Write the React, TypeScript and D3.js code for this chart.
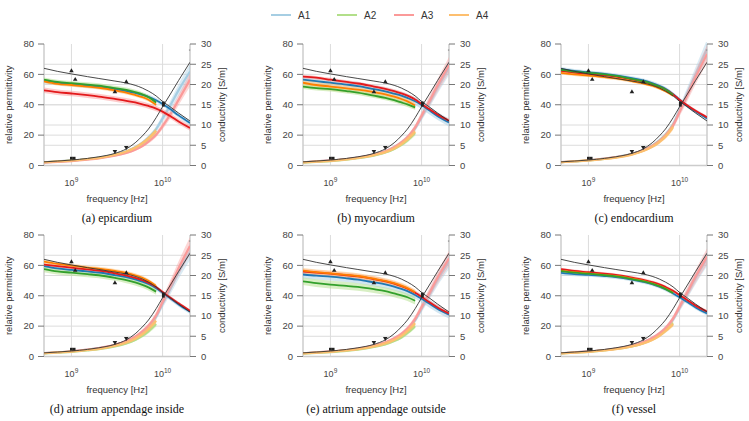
import React from 'react';
import * as d3 from 'd3';

// frequencies of the sampled points, in GHz
const FREQ_GHZ = [0.5, 0.7, 1, 1.5, 2, 3, 4, 5, 6, 7, 8.5, 10, 12, 15, 20];
const SERIES = ['A1', 'A2', 'A3', 'A4'];
const DARK = ['#1f78b4', '#33a02c', '#e31a1c', '#ff7f00'];
const LIGHT = ['#a6cee3', '#b2df8a', '#fb9a99', '#fdbf6f'];
const PERM_TICKS = [0, 20, 40, 60, 80];
const COND_TICKS = [0, 5, 10, 15, 20, 25, 30];
const FREQ_TICKS = [9, 10];

// reference model (black lines) and literature points
const refPerm = [64, 62, 60.3, 58.5, 57.3, 55.6, 54.3, 52.8, 51, 49, 45.8, 42.2, 38.8, 34.5, 29.3];
const refCond = [0.9, 1.1, 1.35, 1.75, 2.15, 3.0, 4.1, 5.6, 7.3, 9.0, 11.8, 14.5, 17.4, 21, 25.5];
const refPermUp = [[1e9, 62.3], [1.1e9, 56.6], [3e9, 48.5], [4e9, 55]];
const refPermSquare = [[1.02e10, 41.2], [1.02e10, 39.7]];
const refPermDot = [[1.98e10, 76]];
const refCondDown = [[3e9, 3.5], [4e9, 4.5]];
const refCondSquare = [[1e9, 1.8], [1.07e9, 1.8]];

// permittivity per series A1..A4 (A2, A4 stop at 8.5 GHz)
const epiPerm = [
  [55.5, 54.5, 53.5, 52.5, 51.8, 50.3, 49, 47.8, 46.5, 45.2, 43, 40.5, 37.3, 33, 28],
  [56.5, 55, 54.2, 53.3, 52.6, 51, 49.8, 48.3, 46.8, 45, 41.5],
  [49.5, 48.3, 47.4, 46.3, 45.4, 43.8, 42.6, 41.5, 40.3, 39.2, 37.5, 35.5, 32.7, 29, 24.7],
  [55.5, 53.8, 53, 52, 51.2, 49.5, 48, 46.5, 45, 43.3, 40],
];
const epiCond = [
  [0.8, 1.0, 1.25, 1.6, 1.95, 2.7, 3.5, 4.5, 5.6, 6.9, 9.0, 11.6, 14.6, 18.6, 23.2],
  [0.75, 0.95, 1.2, 1.55, 1.9, 2.6, 3.4, 4.3, 5.4, 6.6, 8.5],
  [0.7, 0.9, 1.1, 1.45, 1.75, 2.4, 3.1, 3.9, 4.8, 5.9, 7.6, 9.7, 12.4, 16.2, 21.2],
  [0.8, 1.0, 1.2, 1.6, 1.9, 2.65, 3.45, 4.4, 5.5, 6.7, 8.6],
];
const epiSpread = [1.5, 1.5, 1.8, 1.2];

const myoPerm = [
  [56.5, 55.5, 54.5, 53.3, 52.3, 50.3, 48.8, 47.3, 46, 44.5, 42.3, 39.8, 36.5, 32.5, 28.3],
  [52, 51, 50.3, 49, 48, 46, 44.5, 43, 41.5, 40.2, 38.3],
  [58.5, 57.8, 56.5, 55, 54, 52, 50.5, 49, 47.5, 46, 43.5, 40.5, 37.3, 33.5, 29.5],
  [54.5, 53, 52, 50.8, 50, 48.3, 46.8, 45.3, 43.8, 42.2, 39.5],
];
const myoCond = [
  [0.8, 1.0, 1.25, 1.6, 1.95, 2.7, 3.5, 4.5, 5.6, 6.9, 9.2, 12.0, 15.2, 19.3, 24.2],
  [0.7, 0.9, 1.1, 1.45, 1.8, 2.45, 3.2, 4.1, 5.1, 6.2, 8.0],
  [0.8, 1.0, 1.25, 1.6, 1.95, 2.7, 3.5, 4.5, 5.7, 7.0, 9.4, 12.3, 15.6, 19.8, 24.8],
  [0.75, 0.95, 1.15, 1.5, 1.85, 2.55, 3.3, 4.2, 5.3, 6.5, 8.4],
];
const myoSpread = [2.6, 1.6, 1.2, 2.6];

const endoPerm = [
  [63.5, 62.3, 61.3, 60.3, 59.3, 57.5, 56, 54.3, 52.5, 50.5, 47, 43.3, 39.5, 35.5, 31],
  [63, 61.8, 61, 60, 59, 57, 55.5, 53.8, 52, 50, 46.5],
  [62.3, 61.2, 60.3, 59.3, 58.5, 56.7, 55.2, 53.6, 51.8, 50, 46.8, 43.3, 39.8, 36, 31.8],
  [61, 60, 59.2, 58.2, 57.3, 55.5, 54, 52.5, 50.8, 49, 46],
];
const endoCond = [
  [0.85, 1.05, 1.3, 1.7, 2.1, 2.9, 3.8, 4.9, 6.2, 7.6, 10.2, 13.6, 17.6, 22.5, 28.8],
  [0.8, 1.0, 1.25, 1.65, 2.0, 2.8, 3.7, 4.8, 6.0, 7.4, 9.9],
  [0.85, 1.05, 1.3, 1.7, 2.05, 2.85, 3.75, 4.8, 6.0, 7.4, 9.9, 13.2, 17.0, 21.8, 27.5],
  [0.8, 1.0, 1.25, 1.6, 1.95, 2.7, 3.6, 4.6, 5.8, 7.1, 9.5],
];
const endoSpread = [1.3, 1, 1, 1];

const inPerm = [
  [59.5, 58, 57, 56, 55.3, 53.6, 52.2, 50.8, 49.3, 47.7, 45, 42, 38.5, 34.3, 29.5],
  [57.5, 56, 55.2, 54.2, 53.5, 51.8, 50.3, 48.8, 47.2, 45.5, 42.7],
  [60.5, 59.5, 58.5, 57.3, 56.5, 54.8, 53.3, 51.8, 50.2, 48.5, 45.8, 42.5, 39, 35, 30],
  [62.5, 61, 59.8, 58.5, 57.8, 56.3, 55, 53.5, 51.8, 49.8, 46.5],
];
const inCond = [
  [0.85, 1.05, 1.3, 1.7, 2.05, 2.85, 3.7, 4.7, 5.9, 7.3, 9.8, 13.0, 16.4, 20.8, 25.8],
  [0.75, 0.95, 1.15, 1.5, 1.8, 2.5, 3.25, 4.1, 5.1, 6.2, 8.0],
  [0.85, 1.05, 1.3, 1.7, 2.1, 2.9, 3.8, 4.9, 6.2, 7.6, 10.2, 13.5, 17.2, 21.8, 27.3],
  [0.8, 1.0, 1.2, 1.6, 1.9, 2.65, 3.45, 4.4, 5.5, 6.8, 8.8],
];
const inSpread = [1.5, 2, 1, 1.3];

const outPerm = [
  [54, 53.2, 52.6, 51.5, 50.6, 48.8, 47.5, 46, 44.5, 43, 40.5, 38, 35, 31.3, 27.5],
  [49.5, 48.3, 47.3, 46.5, 45.8, 44.3, 43, 41.5, 40.3, 39, 36.7],
  [56, 55.3, 54.5, 53.5, 52.7, 51, 49.5, 48, 46.3, 44.6, 42, 39.3, 36, 32.3, 28.3],
  [56.5, 55.5, 54.8, 53.8, 53, 51.2, 49.8, 48.3, 46.7, 45, 42.3],
];
const outCond = [
  [0.8, 1.0, 1.2, 1.55, 1.9, 2.6, 3.4, 4.3, 5.4, 6.7, 9.0, 11.8, 15.0, 19.0, 23.5],
  [0.7, 0.9, 1.1, 1.4, 1.7, 2.35, 3.0, 3.8, 4.7, 5.8, 7.5],
  [0.8, 1.0, 1.25, 1.6, 1.95, 2.7, 3.5, 4.5, 5.6, 6.9, 9.3, 12.2, 15.4, 19.5, 24.2],
  [0.75, 0.95, 1.15, 1.5, 1.8, 2.5, 3.25, 4.1, 5.1, 6.3, 8.2],
];
const outSpread = [2.5, 2.5, 1.6, 1.8];

const vesPerm = [
  [55, 54.2, 53.8, 53, 52.3, 50.7, 49.2, 47.7, 46, 44.3, 41.5, 39, 36, 32.3, 28.3],
  [56.2, 55.2, 54.5, 53.5, 52.7, 51, 49.5, 48, 46.3, 44.5, 41.8],
  [57.5, 56.3, 55.5, 54.5, 53.7, 52, 50.5, 49, 47.5, 45.8, 43.3, 40.5, 37.3, 33.5, 29.6],
  [56.5, 55.5, 54.8, 53.8, 53, 51.3, 49.8, 48.2, 46.5, 44.8, 42],
];
const vesCond = [
  [0.8, 1.0, 1.25, 1.6, 1.95, 2.7, 3.5, 4.5, 5.6, 6.9, 9.2, 12.1, 15.3, 19.4, 24.2],
  [0.75, 0.95, 1.15, 1.5, 1.85, 2.5, 3.3, 4.2, 5.2, 6.4, 8.2],
  [0.8, 1.0, 1.25, 1.6, 1.95, 2.7, 3.55, 4.55, 5.7, 7.0, 9.4, 12.3, 15.6, 19.8, 24.7],
  [0.75, 0.95, 1.15, 1.5, 1.8, 2.5, 3.25, 4.1, 5.1, 6.3, 8.0],
];
const vesSpread = [1.3, 1, 1, 1];

const CAPTIONS = [
  '(a) epicardium', '(b) myocardium', '(c) endocardium',
  '(d) atrium appendage inside', '(e) atrium appendage outside', '(f) vessel',
];
const PANELS = [
  { perm: epiPerm, cond: epiCond, spread: epiSpread },
  { perm: myoPerm, cond: myoCond, spread: myoSpread },
  { perm: endoPerm, cond: endoCond, spread: endoSpread },
  { perm: inPerm, cond: inCond, spread: inSpread },
  { perm: outPerm, cond: outCond, spread: outSpread },
  { perm: vesPerm, cond: vesCond, spread: vesSpread },
];

const COL_X = [44, 303, 561];
const ROW_Y = [44, 235];
const PW = 146;
const PH = 121.5;
const SANS = '"Liberation Sans", Arial, sans-serif';
const SERIF = '"Liberation Serif", "Times New Roman", serif';

const pts = (vals: number[]) => vals.map((v, i) => [FREQ_GHZ[i] * 1e9, v] as [number, number]);

function Panel({ idx }: { idx: number }) {
  const p = PANELS[idx];
  const left = COL_X[idx % 3];
  const top = ROW_Y[Math.floor(idx / 3)];

  const x = d3.scaleLog().domain([5e8, 2e10]).range([0, PW]);
  const yP = d3.scaleLinear().domain([0, 80]).range([PH, 0]);
  const yC = d3.scaleLinear().domain([0, 30]).range([PH, 0]);

  const lineP = d3.line<[number, number]>().x(d => x(d[0])).y(d => yP(d[1])).curve(d3.curveMonotoneX);
  const lineC = d3.line<[number, number]>().x(d => x(d[0])).y(d => yC(d[1])).curve(d3.curveMonotoneX);
  const bandP = (s: number) => d3.area<[number, number]>()
    .x(d => x(d[0])).y0(d => yP(d[1] - s)).y1(d => yP(d[1] + s)).curve(d3.curveMonotoneX);
  const bandC = d3.area<[number, number]>()
    .x(d => x(d[0])).y0(d => yC(d[1] * 0.92)).y1(d => yC(d[1] * 1.08)).curve(d3.curveMonotoneX);

  const tri = d3.symbol(d3.symbolTriangle, 9)();
  const sq = d3.symbol(d3.symbolSquare, 8)();
  const clipId = `clip${idx}`;
  const permOrder = [0, 2, 3, 1];

  return (
    <g transform={`translate(${left},${top})`}>
      <defs>
        <clipPath id={clipId}><rect x={0} y={-2} width={PW} height={PH + 2} /></clipPath>
      </defs>
      {/* grid */}
      {FREQ_TICKS.map(e => (
        <line key={'v' + e} x1={x(10 ** e)} x2={x(10 ** e)} y1={0} y2={PH} stroke="#dcdcdc" strokeWidth={1} />
      ))}
      {PERM_TICKS.slice(1, -1).map(t => (
        <line key={'hp' + t} x1={0} x2={PW} y1={yP(t)} y2={yP(t)} stroke="#dcdcdc" strokeWidth={1} />
      ))}
      {COND_TICKS.slice(1, -1).map(t => (
        <line key={'hc' + t} x1={0} x2={PW} y1={yC(t)} y2={yC(t)} stroke="#dcdcdc" strokeWidth={1} />
      ))}
      <line x1={0} x2={0} y1={0} y2={PH} stroke="#cccccc" strokeWidth={1.5} />
      <line x1={PW} x2={PW} y1={0} y2={PH} stroke="#cccccc" strokeWidth={1.5} />
      <line x1={0} x2={PW} y1={PH} y2={PH} stroke="#cccccc" strokeWidth={1.5} />

      <g clipPath={`url(#${clipId})`}>
        {/* conductivity */}
        {p.cond.map((vals, i) => (
          <g key={'c' + i}>
            <path d={bandC(pts(vals)) || ''} fill={LIGHT[i]} opacity={0.4} />
            <path d={lineC(pts(vals)) || ''} fill="none" stroke={LIGHT[i]} strokeWidth={2.2} />
          </g>
        ))}
        {/* permittivity */}
        {permOrder.map(i => (
          <path key={'b' + i} d={bandP(p.spread[i])(pts(p.perm[i])) || ''} fill={LIGHT[i]} opacity={0.5} />
        ))}
        {permOrder.map(i => (
          <path key={'p' + i} d={lineP(pts(p.perm[i])) || ''} fill="none" stroke={DARK[i]} strokeWidth={1.8} />
        ))}
        {/* reference */}
        <path d={lineP(pts(refPerm)) || ''} fill="none" stroke="#333" strokeWidth={0.9} />
        <path d={lineC(pts(refCond)) || ''} fill="none" stroke="#333" strokeWidth={0.9} />
      </g>
      {refPermUp.map((d, i) => (
        <path key={'tu' + i} d={tri || ''} transform={`translate(${x(d[0])},${yP(d[1])})`} fill="#222" />
      ))}
      {refPermSquare.map((d, i) => (
        <path key={'sp' + i} d={sq || ''} transform={`translate(${x(d[0])},${yP(d[1])})`} fill="#222" />
      ))}
      {refPermDot.map((d, i) => (
        <circle key={'dp' + i} cx={x(d[0])} cy={yP(d[1])} r={0.8} fill="#999" />
      ))}
      {refCondDown.map((d, i) => (
        <path key={'td' + i} d={tri || ''} transform={`translate(${x(d[0])},${yC(d[1])}) rotate(180)`} fill="#222" />
      ))}
      {refCondSquare.map((d, i) => (
        <path key={'sc' + i} d={sq || ''} transform={`translate(${x(d[0])},${yC(d[1])})`} fill="#222" />
      ))}

      {/* left axis */}
      {PERM_TICKS.map(t => (
        <g key={'lt' + t}>
          <line x1={-6} x2={0} y1={yP(t)} y2={yP(t)} stroke="#777" strokeWidth={1} />
          <text x={-10} y={yP(t)} dy="0.35em" textAnchor="end" fontSize={9.5} fill="#444" fontFamily={SANS}>{t}</text>
        </g>
      ))}
      {/* right axis */}
      {COND_TICKS.map(t => (
        <g key={'rt' + t}>
          <line x1={PW} x2={PW + 6} y1={yC(t)} y2={yC(t)} stroke="#777" strokeWidth={1} />
          <text x={PW + 11} y={yC(t)} dy="0.35em" textAnchor="start" fontSize={9.5} fill="#444" fontFamily={SANS}>{t}</text>
        </g>
      ))}
      {/* bottom axis */}
      {FREQ_TICKS.map(e => (
        <text key={'bt' + e} x={x(10 ** e)} y={PH + 20} textAnchor="middle" fontSize={9} fill="#444" fontFamily={SANS}>
          10<tspan dy={-4} fontSize={6.5}>{e}</tspan>
        </text>
      ))}
      <text x={PW / 2} y={PH + 36} textAnchor="middle" fontSize={9.5} fill="#333" fontFamily={SANS}>frequency [Hz]</text>
      <text transform={`translate(${-32},${PH / 2}) rotate(-90)`} textAnchor="middle" fontSize={9.5} fill="#333" fontFamily={SANS}>relative permittivity</text>
      <text transform={`translate(${PW + 35},${PH / 2}) rotate(-90)`} textAnchor="middle" fontSize={9.5} fill="#333" fontFamily={SANS}>conductivity [S/m]</text>
      <text x={PW / 2} y={PH + 56} textAnchor="middle" fontSize={12} fill="#111" fontFamily={SERIF}>{CAPTIONS[idx]}</text>
    </g>
  );
}

const LEGEND_X = [271, 337, 394, 449];

export default function App() {
  return (
    <svg width={749} height={421} viewBox="0 0 749 421"
      style={{ position: 'absolute', left: 0, top: 0, background: '#fff' }}>
      <rect width={749} height={421} fill="#fff" />
      {SERIES.map((s, i) => (
        <g key={s} transform={`translate(${LEGEND_X[i]},15)`}>
          <line x1={0} x2={20} y1={0} y2={0} stroke={LIGHT[i]} strokeWidth={2} />
          <text x={27} y={0} dy="0.35em" fontSize={10} fill="#333" fontFamily={SANS}>{s}</text>
        </g>
      ))}
      {PANELS.map((_, i) => <Panel key={i} idx={i} />)}
    </svg>
  );
}
